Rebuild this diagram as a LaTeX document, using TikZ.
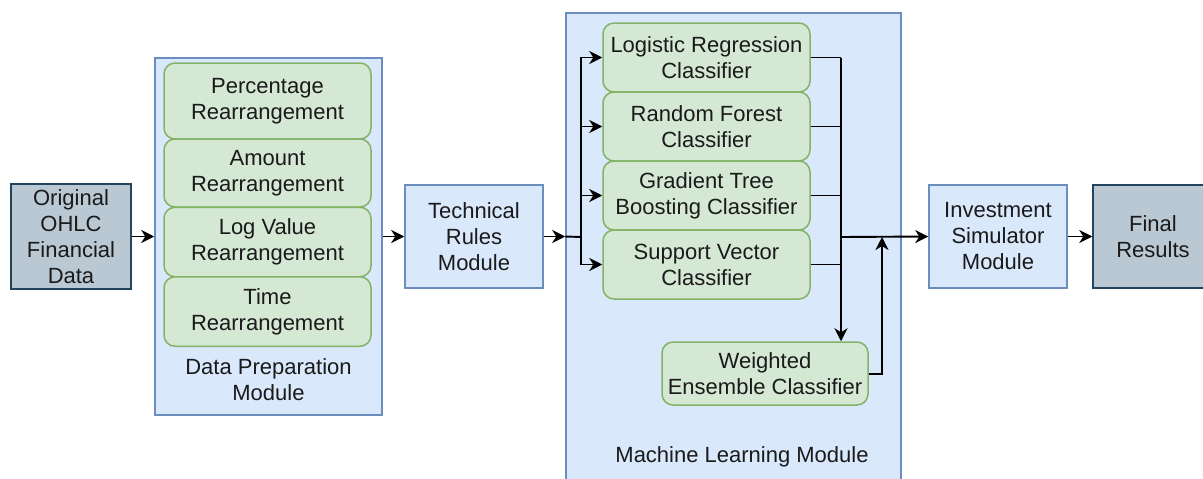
\documentclass[tikz,border=0pt]{standalone}
\usepackage{fontspec}
\setmainfont{Liberation Sans}
\usetikzlibrary{arrows.meta}
\definecolor{bluefill}{HTML}{DAE8FC}
\definecolor{blueline}{HTML}{6C8EBF}
\definecolor{greenfill}{HTML}{D5E8D4}
\definecolor{greenline}{HTML}{82B366}
\definecolor{grayfill}{HTML}{BAC8D3}
\definecolor{grayline}{HTML}{23445D}
\definecolor{txt}{HTML}{1A1A1A}
\tikzset{
  base/.style={draw, line width=1.5pt, align=center, inner sep=0pt, text=txt,
    font=\fontsize{22}{26}\selectfont},
  graybox/.style={base, fill=grayfill, draw=grayline},
  bluebox/.style={base, fill=bluefill, draw=blueline},
  greenbox/.style={base, fill=greenfill, draw=greenline, rounded corners=11pt},
  lbl/.style={align=center, inner sep=0pt, text=txt, font=\fontsize{22}{26}\selectfont},
  conn/.style={line width=1.9pt, black},
  arr/.style={conn, -{Stealth[length=13pt,width=13pt,inset=4pt]}},
}
\begin{document}
\begin{tikzpicture}[x=1pt,y=-1pt]
\useasboundingbox (0,0) rectangle (1203,479);
\clip (0,0) rectangle (1203,479);
% containers
\node[bluebox, minimum width=227, minimum height=357] (dp) at (268.5,236.5) {};
\node[bluebox, minimum width=335, minimum height=476] (ml) at (733.5,251) {};
% left
\node[graybox, minimum width=120, minimum height=105] (orig) at (71,236.5) {Original\\OHLC\\Financial\\Data};
% data prep boxes
\node[greenbox, minimum width=207, minimum height=76] (p1) at (267.5,101) {Percentage\\Rearrangement};
\node[greenbox, minimum width=207, minimum height=68] (p2) at (267.5,173) {Amount\\Rearrangement};
\node[greenbox, minimum width=207, minimum height=69.5] (p3) at (267.5,242) {Log Value\\Rearrangement};
\node[greenbox, minimum width=207, minimum height=69.5] (p4) at (267.5,311.5) {Time\\Rearrangement};
\node[lbl] (dplbl) at (268.5,379.5) {Data Preparation\\Module};
% technical
\node[bluebox, minimum width=138, minimum height=103] (tech) at (474,236.5) {Technical\\Rules\\Module};
% classifiers
\node[greenbox, minimum width=207, minimum height=69] (c1) at (706.5,57.5) {Logistic Regression\\Classifier};
\node[greenbox, minimum width=207, minimum height=69] (c2) at (706.5,126.5) {Random Forest\\Classifier};
\node[greenbox, minimum width=207, minimum height=69] (c3) at (706.5,195.5) {Gradient Tree\\Boosting Classifier};
\node[greenbox, minimum width=207, minimum height=69] (c4) at (706.5,264.5) {Support Vector\\Classifier};
\node[greenbox, minimum width=206, minimum height=63] (ens) at (765,373.5) {Weighted\\Ensemble Classifier};
\node[lbl] (mllbl) at (742,457) {Machine Learning Module};
% right
\node[bluebox, minimum width=138, minimum height=103] (inv) at (998,236.5) {Investment\\Simulator\\Module};
\node[graybox, minimum width=120, minimum height=103] (fin) at (1153,236.5) {Final\\Results};
% coordinates
\coordinate (split) at (581,237);
\coordinate (merge) at (841,237);
\coordinate (back) at (882,374);
% connectors
\draw[arr] (orig.east) -- (dp.west |- orig.east);
\draw[arr] (dp.east |- tech.west) -- (tech.west);
\draw[arr] (tech.east) -- (ml.west |- tech.east);
\draw[conn] (ml.west |- tech.east) -- (split);
\foreach \c in {c1,c2,c3,c4} {
  \draw[arr] (split) |- (\c.west);
  \draw[conn] (\c.east) -- (merge |- \c.east);
}
\draw[conn] (merge |- c1.east) -- (merge);
\draw[arr] (merge) -- (merge |- ens.north);
\draw[arr] (merge) -- (inv.west);
\draw[arr] (ens.east |- back) -- (back) -- (back |- merge);
\draw[arr] (inv.east) -- (fin.west);
\end{tikzpicture}
\end{document}
